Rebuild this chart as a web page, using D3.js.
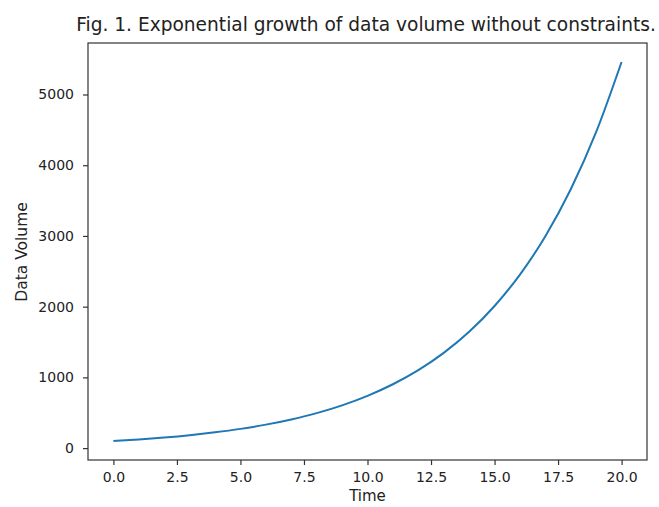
<!DOCTYPE html>
<html><head><meta charset="utf-8">
<script src="https://cdn.jsdelivr.net/npm/d3@7"></script>
<style>body{margin:0;background:#fff}svg{display:block}text{font-family:"DejaVu Sans",sans-serif;fill:#222}</style>
</head><body>
<svg id="c" width="659" height="507"></svg>
<script>
const timePoints = [0,1,2,3,4,5,6,7,8,9,10,11,12,13,14,15,16,17,18,19,20];
const dataVolume = [100,122,149,182,223,272,332,406,495,605,739,903,1102,1346,1644,2009,2453,2996,3660,4470,5460];
const xTicks = [0,2.5,5,7.5,10,12.5,15,17.5,20];
const yTicks = [0,1000,2000,3000,4000,5000];
const title = "Fig. 1. Exponential growth of data volume without constraints.";
const xLabel = "Time", yLabel = "Data Volume";

const svg = d3.select("#c");
const L=88,R=647,T=43,B=460;
const x = d3.scaleLinear().domain([-1,21]).range([L,R]);
const y = d3.scaleLinear().domain([-168,5728]).range([B,T]);
const pts = timePoints.map((t,i)=>[t,dataVolume[i]]);

svg.append("path").datum(pts)
  .attr("fill","none").attr("stroke","#1f77b4").attr("stroke-width",2)
  .attr("d",d3.line().x(d=>x(d[0])).y(d=>y(d[1])).curve(d3.curveMonotoneX));

const fs = 14;
const xa = svg.append("g").attr("transform",`translate(0,${B})`)
  .call(d3.axisBottom(x).tickValues(xTicks).tickFormat(d3.format(".1f")).tickSize(5).tickPadding(7));
const ya = svg.append("g").attr("transform",`translate(${L},0)`)
  .call(d3.axisLeft(y).tickValues(yTicks).tickFormat(d3.format("d")).tickSize(5).tickPadding(9));
[xa,ya].forEach(a=>{
  a.select(".domain").remove();
  a.selectAll("line").attr("stroke","#333").attr("stroke-width",1.2);
  a.selectAll("text").attr("font-size",fs).attr("font-family","DejaVu Sans").attr("fill","#222");
});
svg.append("rect").attr("x",L).attr("y",T).attr("width",R-L).attr("height",B-T)
  .attr("fill","none").attr("stroke","#333").attr("stroke-width",1.2);

svg.append("text").attr("x",366).attr("y",31).attr("text-anchor","middle")
  .attr("font-size",18.6).text(title);
svg.append("text").attr("x",(L+R)/2).attr("y",501).attr("text-anchor","middle")
  .attr("font-size",15).text(xLabel);
svg.append("text").attr("transform",`translate(27,252) rotate(-90)`).attr("text-anchor","middle")
  .attr("font-size",15.5).text(yLabel);
</script>
</body></html>
